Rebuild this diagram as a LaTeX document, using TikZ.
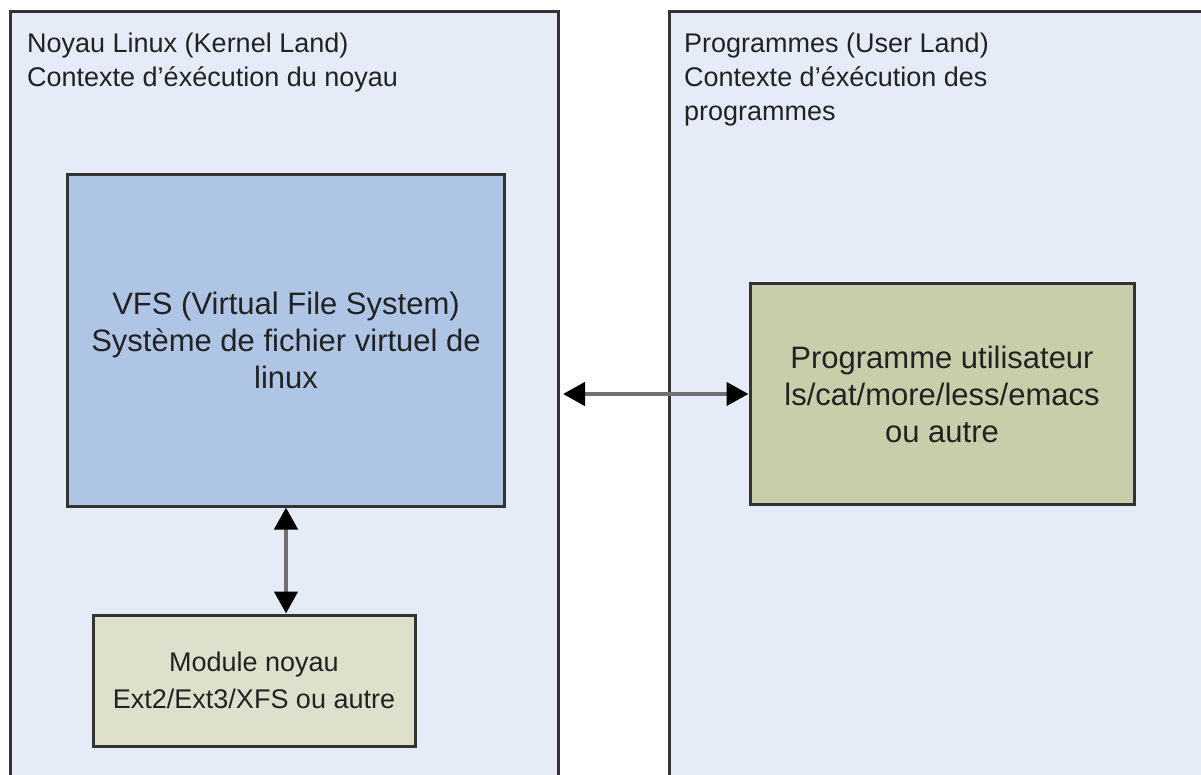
\documentclass[tikz,border=0pt]{standalone}
\usepackage{fontspec}
\setmainfont{Liberation Sans}
\usetikzlibrary{arrows.meta}
\definecolor{panelfill}{HTML}{E6ECF7}
\definecolor{vfsfill}{HTML}{AFC5E5}
\definecolor{modfill}{HTML}{DDE0CA}
\definecolor{progfill}{HTML}{C7CEAA}
\definecolor{edge}{HTML}{333333}
\definecolor{txt}{HTML}{222222}
\definecolor{linkgray}{HTML}{707070}
\begin{document}
\begin{tikzpicture}[x=1pt,y=-1pt,
  panel/.style={draw=edge, line width=3pt, fill=panelfill, anchor=north west, inner sep=0pt},
  box/.style={draw=edge, line width=3pt, align=center, text=txt, inner sep=0pt,
    font=\fontsize{31}{37}\selectfont},
  smallbox/.style={box, font=\fontsize{27}{37}\selectfont},
  header/.style={anchor=north west, align=left, text=txt, inner sep=0pt,
    font=\fontsize{27}{34}\selectfont},
  link/.style={draw=linkgray, line width=4.5pt,
    {Triangle[length=22pt,width=23pt,color=black]}-{Triangle[length=22pt,width=23pt,color=black]}}]
\useasboundingbox (0,0) rectangle (1201,775);
\fill[white] (0,0) rectangle (1201,775);
\clip (0,0) rectangle (1201,775);
% panels
\node[panel, minimum width=548pt, minimum height=900pt] (kernel) at (9,10) {};
\node[panel, minimum width=700pt, minimum height=900pt] (user) at (668,10) {};
% headers
\node[header] (kh) at (27,33) {Noyau Linux (Kernel Land)\\Contexte d'éxécution du noyau};
\node[header] (uh) at (684,33) {Programmes (User Land)\\Contexte d'éxécution des\\programmes};
% boxes
\node[box, fill=vfsfill, minimum width=437pt, minimum height=331pt] (vfs) at (286,340.5)
  {VFS (Virtual File System)\\Système de fichier virtuel de\\linux};
\node[smallbox, fill=modfill, minimum width=322pt, minimum height=131pt] (mod) at (254,680.5)
  {Module noyau\\Ext2/Ext3/XFS ou autre};
\node[box, fill=progfill, minimum width=384pt, minimum height=220pt] (prog) at (942,394)
  {Programme utilisateur\\ls/cat/more/less/emacs\\ou autre};
% connectors
\draw[link, shorten <=3pt] (kernel.east |- prog.west) -- (prog.west);
\draw[link] (vfs.south) -- (vfs.south |- mod.north);
\end{tikzpicture}
\end{document}
